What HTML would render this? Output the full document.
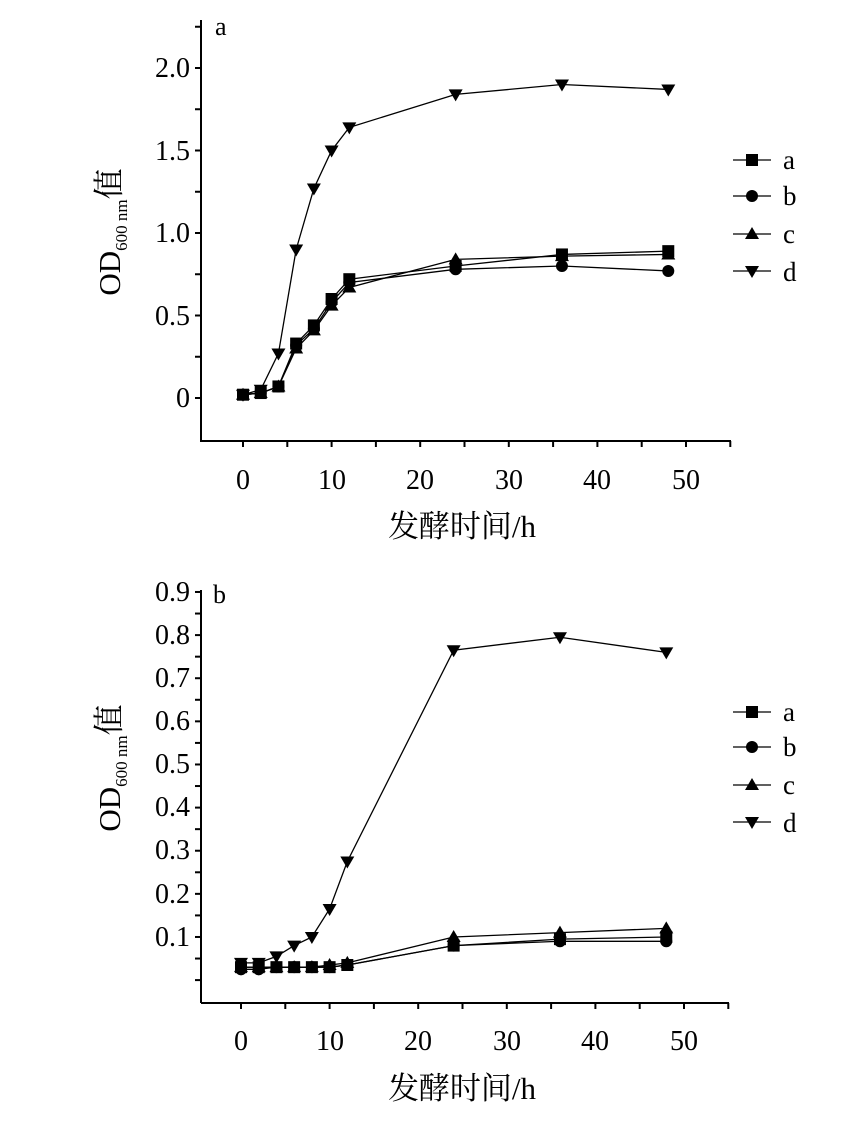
<!DOCTYPE html><html><head><meta charset="utf-8"><style>body{margin:0;background:#fff}svg{display:block}text{font-family:"Liberation Serif","Noto Serif CJK SC",serif;fill:#000}</style></head><body>
<svg id="s" width="842" height="1122" viewBox="0 0 842 1122">
<g stroke="#000" stroke-width="2" fill="none">
<path d="M201 20V441H731"/>
<path d="M201 1003V590M201 1003H729"/>
</g>
<g font-size="28" text-anchor="end">
<text x="190" y="77">2.0</text><text x="190" y="160">1.5</text><text x="190" y="242">1.0</text><text x="190" y="325">0.5</text><text x="190" y="407">0</text>
</g>
<g font-size="28" text-anchor="middle">
<text x="243" y="489">0</text><text x="332" y="489">10</text><text x="420" y="489">20</text><text x="509" y="489">30</text><text x="597" y="489">40</text><text x="686" y="489">50</text>
<text x="241" y="1050">0</text><text x="330" y="1050">10</text><text x="418" y="1050">20</text><text x="507" y="1050">30</text><text x="595" y="1050">40</text><text x="684" y="1050">50</text>
<text x="462" y="537" font-size="31">发酵时间/h</text>
<text x="462" y="1099" font-size="31">发酵时间/h</text>
</g>
<g font-size="28" text-anchor="end">
<text x="190" y="601">0.9</text><text x="190" y="644">0.8</text><text x="190" y="687">0.7</text><text x="190" y="730">0.6</text><text x="190" y="773">0.5</text><text x="190" y="816">0.4</text><text x="190" y="859">0.3</text><text x="190" y="903">0.2</text><text x="190" y="946">0.1</text>
</g>
<text x="215" y="35" font-size="26">a</text>
<text x="213" y="603" font-size="26">b</text>
<text transform="translate(120,232) rotate(-90)" font-size="31" text-anchor="middle">OD<tspan font-size="17" dy="7">600 nm</tspan><tspan dy="-7">值</tspan></text>
<text transform="translate(120,768) rotate(-90)" font-size="31" text-anchor="middle">OD<tspan font-size="17" dy="7">600 nm</tspan><tspan dy="-7">值</tspan></text>
<g font-size="27">
<text x="783" y="169">a</text><text x="783" y="205">b</text><text x="783" y="243">c</text><text x="783" y="281">d</text>
<text x="783" y="721">a</text><text x="783" y="756">b</text><text x="783" y="794">c</text><text x="783" y="832">d</text>
</g>
<g id="dyn"></g>
</svg>
<script>
var ns="http://www.w3.org/2000/svg",g=document.getElementById("dyn");
function el(t,a){var e=document.createElementNS(ns,t);for(var k in a)e.setAttribute(k,a[k]);g.appendChild(e);return e}
function mk(type,x,y){var s=6;
 if(type=="a")el("rect",{x:x-s,y:y-s,width:2*s,height:2*s,fill:"#000"});
 else if(type=="b")el("circle",{cx:x,cy:y,r:s,fill:"#000"});
 else if(type=="c")el("path",{d:"M"+x+" "+(y-7)+"L"+(x+7)+" "+(y+5)+"L"+(x-7)+" "+(y+5)+"Z",fill:"#000"});
 else el("path",{d:"M"+x+" "+(y+7)+"L"+(x+7)+" "+(y-5)+"L"+(x-7)+" "+(y-5)+"Z",fill:"#000"});}
var T=[0,2,4,6,8,10,12,24,36,48];
function plot(x0,sx,yf,data){for(var k in data){var p=T.map(function(t,i){return [x0+t*sx,yf(data[k][i])]});
 el("polyline",{points:p.map(function(q){return q.join(",")}).join(" "),fill:"none",stroke:"#000","stroke-width":1.3});
 p.forEach(function(q){mk(k,q[0],q[1])});}}
for(var v=0;v<=2.25;v+=0.25){var y=398-v*165;el("line",{x1:195,x2:201,y1:y,y2:y,stroke:"#000","stroke-width":2})}
for(var v=0;v<=0.9001;v+=0.05){var y=980.1-v*431.25;el("line",{x1:195,x2:201,y1:y,y2:y,stroke:"#000","stroke-width":2})}
for(var t=-5;t<=55;t+=5){var x=243+t*8.86;if(x>201&&x<731)el("line",{x1:x,x2:x,y1:441,y2:447,stroke:"#000","stroke-width":2});
 x=241+t*8.86;if(x>201&&x<729)el("line",{x1:x,x2:x,y1:1003,y2:1009,stroke:"#000","stroke-width":2});}
plot(243,8.86,function(v){return 398-v*165},{
a:[0.02,0.03,0.07,0.33,0.44,0.6,0.72,0.8,0.87,0.89],
b:[0.02,0.03,0.07,0.32,0.42,0.58,0.7,0.78,0.8,0.77],
c:[0.02,0.03,0.07,0.3,0.41,0.56,0.67,0.84,0.86,0.87],
d:[0.02,0.05,0.27,0.9,1.27,1.5,1.64,1.84,1.9,1.87]});
plot(241,8.86,function(v){return 980.1-v*431.25},{
a:[0.03,0.03,0.03,0.03,0.03,0.03,0.035,0.08,0.095,0.1],
b:[0.025,0.025,0.03,0.03,0.03,0.03,0.035,0.08,0.09,0.09],
c:[0.03,0.03,0.03,0.03,0.03,0.035,0.04,0.1,0.11,0.12],
d:[0.04,0.04,0.055,0.08,0.1,0.165,0.275,0.765,0.795,0.76]});
[["a",160],["b",196],["c",234],["d",271],["a",712],["b",747],["c",785],["d",822]].forEach(function(l){
 el("line",{x1:733,x2:771,y1:l[1],y2:l[1],stroke:"#000","stroke-width":1.3});mk(l[0],752,l[1]);});
</script>
</body></html>
